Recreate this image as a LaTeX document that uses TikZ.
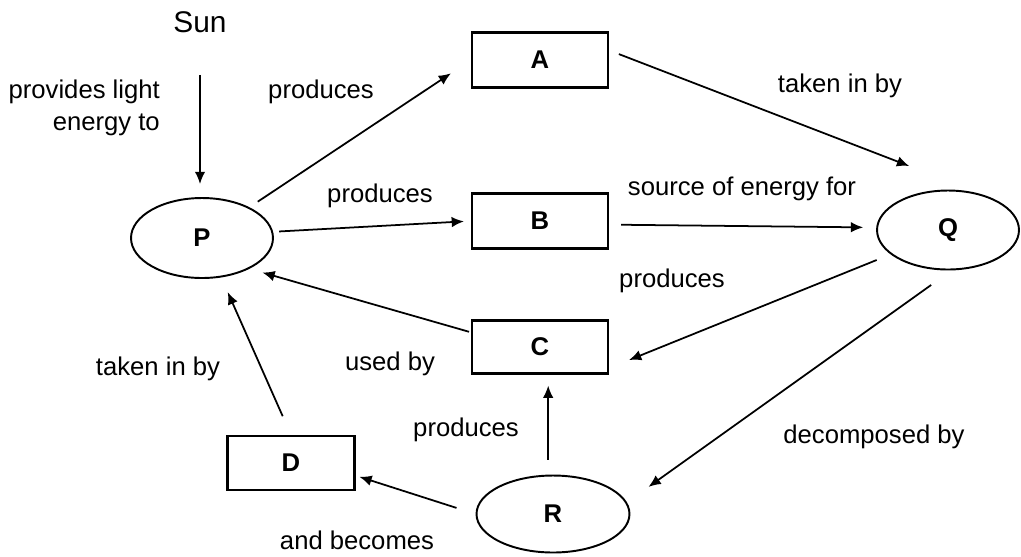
\documentclass[tikz,border=0pt]{standalone}
\usepackage{fontspec}
\setmainfont{Liberation Sans}
\usetikzlibrary{arrows.meta,shapes.geometric}
\newcommand{\lblfont}{\fontsize{14.6}{18}\selectfont}
\tikzset{
  box/.style={draw, line width=1.2pt, minimum width=2.72cm, minimum height=1.1cm, font={\lblfont\bfseries}},
  oval/.style={draw, ellipse, line width=1.1pt, inner sep=0pt, font={\lblfont\bfseries}},
  arr/.style={line width=1pt, -{Latex[length=7pt,width=6pt]}},
}
\begin{document}
\begin{tikzpicture}[x=0.02cm, y=-0.02cm, font=\lblfont]
  \useasboundingbox (0,0) rectangle (1021,556);
  % the things in the cycle
  \node[font=\fontsize{17}{20}\selectfont] (sun) at (200,22) {Sun};
  \node[oval, minimum width=2.84cm, minimum height=1.6cm] (P) at (202,238) {P};
  \node[oval, minimum width=2.84cm, minimum height=1.58cm] (Q) at (948,230) {Q};
  \node[oval, minimum width=3.06cm, minimum height=1.54cm] (R) at (553,514) {R};
  \node[box] (A) at (540,60) {A};
  \node[box] (B) at (540,221) {B};
  \node[box, minimum height=1.06cm] (C) at (540,347) {C};
  \node[box, minimum width=2.54cm, minimum height=1.08cm] (D) at (291,463) {D};
  % arrows
  \draw[arr, shorten <=0.72cm, shorten >=0.26cm] (sun.south) -- (sun.south |- P.north);
  \draw[arr, shorten <=0.2cm, shorten >=0.48cm] (P.33) -- (A.west);
  \draw[arr, shorten <=0.12cm, shorten >=0.14cm] (P.5) -- (B.west);
  \draw[arr, shorten <=0.04cm, shorten >=0.27cm] (C.168) -- (P.-33);
  \draw[arr, shorten <=0.21cm, shorten >=1.67cm] (A.8) -- (Q.41);
  \draw[arr, shorten <=0.24cm, shorten >=0.26cm] (B.-3) -- (Q.178);
  \draw[arr, shorten <=0.3cm, shorten >=0.43cm] (Q.203) -- (C.-17);
  \draw[arr, shorten <=0.5cm, shorten >=0.53cm] (Q.-85) -- (R.9);
  \draw[arr, shorten <=0.3cm, shorten >=0.22cm] (R.97) -- (R.97 |- C.south);
  \draw[arr, shorten <=0.4cm, shorten >=0.08cm] (R.west) -- (D.-11);
  \draw[arr, shorten <=0.41cm, shorten >=0.32cm] (D.north) -- (P.-64);
  % labels
  \node[align=right, anchor=east] (light) at (166,108) {provides light\\energy to};
  \node (prodA) at (321,92) {produces};
  \node (prodB) at (380,196) {produces};
  \node (takenQ) at (840,86) {taken in by};
  \node (source) at (742,189) {source of energy for};
  \node (prodC) at (672,281) {produces};
  \node (used) at (390,364) {used by};
  \node (takenP) at (158,369) {taken in by};
  \node (prodR) at (466,430) {produces};
  \node (decomp) at (874,437) {decomposed by};
  \node (becomes) at (357,540) {and becomes};
\end{tikzpicture}
\end{document}
